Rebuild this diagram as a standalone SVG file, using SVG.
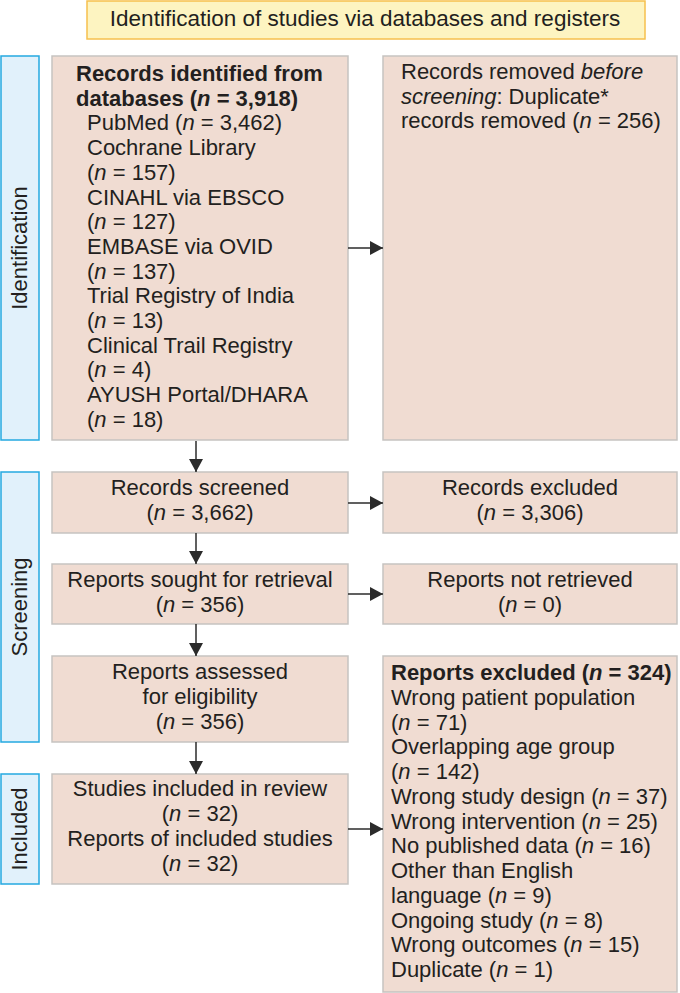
<svg xmlns="http://www.w3.org/2000/svg" width="680" height="993" viewBox="0 0 680 993">
<defs>
<style>
.box{fill:#f0dcd2;stroke:#c6c3c1;stroke-width:1.5}
.side{fill:#e1f1fb;stroke:#25a9e1;stroke-width:1.5}
.title{fill:#fdf4c1;stroke:#f6c04e;stroke-width:1.5}
text{font-family:"Liberation Sans",Arial,sans-serif;font-size:22px;fill:#231f20}
.c{text-anchor:middle}
.b{font-weight:bold}
.i{font-style:italic}
.conn{stroke:#2b2b2b;stroke-width:1.5;fill:none}
</style>
<marker id="ah" markerUnits="userSpaceOnUse" markerWidth="14" markerHeight="14" refX="13" refY="7" orient="auto">
<path d="M0,0 L13,7 L0,14 z" fill="#2b2b2b"/>
</marker>
</defs>
<rect width="680" height="993" fill="#ffffff"/>

<g id="title">
<rect class="title" x="87" y="1" width="558" height="38"/>
<text class="c" x="365" y="26" style="font-size:22.5px">Identification of studies via databases and registers</text>
</g>

<g id="side-identification">
<rect class="side" x="1" y="56" width="38" height="384"/>
<text class="c" transform="translate(27,248) rotate(-90)">Identification</text>
</g>
<g id="side-screening">
<rect class="side" x="1" y="472" width="38" height="270"/>
<text class="c" transform="translate(27,607) rotate(-90)">Screening</text>
</g>
<g id="side-included">
<rect class="side" x="1" y="774" width="38" height="110"/>
<text class="c" transform="translate(27,829) rotate(-90)">Included</text>
</g>

<g id="records-identified">
<rect class="box" x="52" y="56" width="296" height="384"/>
<text class="b" x="76" y="81">Records identified from</text>
<text class="b" x="76" y="105.7">databases (<tspan class="i">n</tspan> = 3,918)</text>
<text x="87" y="130.4">PubMed (<tspan class="i">n</tspan> = 3,462)</text>
<text x="87" y="155.1">Cochrane Library</text>
<text x="87" y="179.8">(<tspan class="i">n</tspan> = 157)</text>
<text x="87" y="204.5">CINAHL via EBSCO</text>
<text x="87" y="229.2">(<tspan class="i">n</tspan> = 127)</text>
<text x="87" y="253.9">EMBASE via OVID</text>
<text x="87" y="278.6">(<tspan class="i">n</tspan> = 137)</text>
<text x="87" y="303.3">Trial Registry of India</text>
<text x="87" y="328">(<tspan class="i">n</tspan> = 13)</text>
<text x="87" y="352.7">Clinical Trail Registry</text>
<text x="87" y="377.4">(<tspan class="i">n</tspan> = 4)</text>
<text x="87" y="402.1">AYUSH Portal/DHARA</text>
<text x="87" y="426.8">(<tspan class="i">n</tspan> = 18)</text>
</g>

<g id="records-removed">
<rect class="box" x="383" y="56" width="294" height="384"/>
<text x="401" y="79">Records removed <tspan class="i">before</tspan></text>
<text x="401" y="103.5"><tspan class="i">screening</tspan>: Duplicate*</text>
<text x="401" y="128">records removed (<tspan class="i">n</tspan> = 256)</text>
</g>

<g id="records-screened">
<rect class="box" x="52" y="472" width="296" height="61"/>
<text class="c" x="200" y="495">Records screened</text>
<text class="c" x="200" y="520">(<tspan class="i">n</tspan> = 3,662)</text>
</g>

<g id="records-excluded">
<rect class="box" x="383" y="472" width="294" height="61"/>
<text class="c" x="530" y="495">Records excluded</text>
<text class="c" x="530" y="520">(<tspan class="i">n</tspan> = 3,306)</text>
</g>

<g id="reports-sought">
<rect class="box" x="52" y="564" width="296" height="60"/>
<text class="c" x="200" y="587">Reports sought for retrieval</text>
<text class="c" x="200" y="612">(<tspan class="i">n</tspan> = 356)</text>
</g>

<g id="reports-not-retrieved">
<rect class="box" x="383" y="564" width="294" height="60"/>
<text class="c" x="530" y="587">Reports not retrieved</text>
<text class="c" x="530" y="612">(<tspan class="i">n</tspan> = 0)</text>
</g>

<g id="reports-assessed">
<rect class="box" x="52" y="656" width="296" height="86"/>
<text class="c" x="200" y="679">Reports assessed</text>
<text class="c" x="200" y="704">for eligibility</text>
<text class="c" x="200" y="729">(<tspan class="i">n</tspan> = 356)</text>
</g>

<g id="reports-excluded">
<rect class="box" x="383" y="656" width="294" height="336"/>
<text class="b" x="391" y="680">Reports excluded (<tspan class="i">n</tspan> = 324)</text>
<text x="391" y="704.75">Wrong patient population</text>
<text x="391" y="729.5">(<tspan class="i">n</tspan> = 71)</text>
<text x="391" y="754.25">Overlapping age group</text>
<text x="391" y="779">(<tspan class="i">n</tspan> = 142)</text>
<text x="391" y="803.75">Wrong study design (<tspan class="i">n</tspan> = 37)</text>
<text x="391" y="828.5">Wrong intervention (<tspan class="i">n</tspan> = 25)</text>
<text x="391" y="853.25">No published data (<tspan class="i">n</tspan> = 16)</text>
<text x="391" y="878">Other than English</text>
<text x="391" y="902.75">language (<tspan class="i">n</tspan> = 9)</text>
<text x="391" y="927.5">Ongoing study (<tspan class="i">n</tspan> = 8)</text>
<text x="391" y="952.25">Wrong outcomes (<tspan class="i">n</tspan> = 15)</text>
<text x="391" y="977">Duplicate (<tspan class="i">n</tspan> = 1)</text>
</g>

<g id="studies-included">
<rect class="box" x="52" y="774" width="296" height="110"/>
<text class="c" x="200" y="796">Studies included in review</text>
<text class="c" x="200" y="821">(<tspan class="i">n</tspan> = 32)</text>
<text class="c" x="200" y="846">Reports of included studies</text>
<text class="c" x="200" y="871">(<tspan class="i">n</tspan> = 32)</text>
</g>

<g id="connectors">
<line class="conn" x1="348" y1="248" x2="383" y2="248" marker-end="url(#ah)"/>
<line class="conn" x1="196" y1="441" x2="196" y2="472" marker-end="url(#ah)"/>
<line class="conn" x1="348" y1="503" x2="383" y2="503" marker-end="url(#ah)"/>
<line class="conn" x1="196" y1="533" x2="196" y2="564" marker-end="url(#ah)"/>
<line class="conn" x1="348" y1="594" x2="383" y2="594" marker-end="url(#ah)"/>
<line class="conn" x1="196" y1="624" x2="196" y2="656" marker-end="url(#ah)"/>
<line class="conn" x1="196" y1="742" x2="196" y2="774" marker-end="url(#ah)"/>
<line class="conn" x1="348" y1="829" x2="383" y2="829" marker-end="url(#ah)"/>
</g>
</svg>
